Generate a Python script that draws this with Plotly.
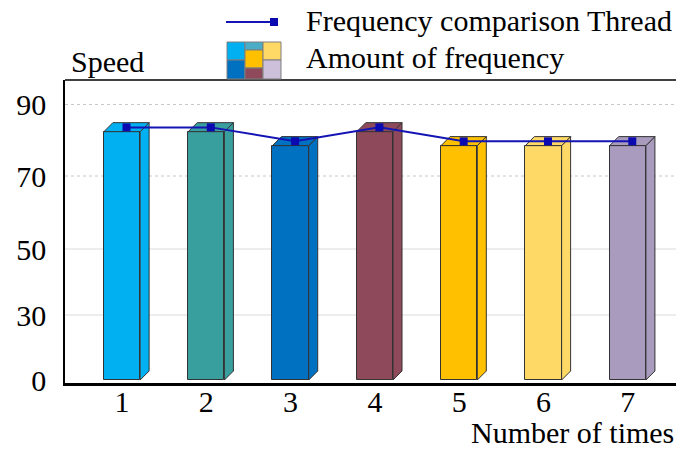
import plotly.graph_objects as go
import numpy as np

# ---- data ----
CATEGORIES = [1, 2, 3, 4, 5, 6, 7]
AMOUNT = [82.4, 82.4, 78.5, 82.4, 78.5, 78.5, 78.5]          # bar (front-face) heights
THREAD = [83.6, 83.6, 79.7, 83.6, 79.7, 79.7, 79.7]          # line values
BAR_COLORS = ["#00B0F0", "#389E9E", "#0070C0", "#8E4A5A", "#FFC000", "#FFD966", "#A99BBD"]
Y_TICK_LABELS = [0, 30, 50, 70, 90]
X_TICK_LABELS = ["1", "2", "3", "4", "5", "6", "7"]

# the reference's value axis is non-uniform: tick labels sit at these heights (px above the x axis)
Y_TICK_POS = [3, 68, 134, 207, 278.5]


def ypos(v):
    return np.interp(v, Y_TICK_LABELS, Y_TICK_POS)


W, H = 676, 451
ML, MR, MT, MB = 65, 0, 80, 68
PW, PH = W - ML - MR, H - MT - MB
X_RANGE = [0.324, 7.572]
Y_RANGE = [0, PH]

BAR_W = 0.43
DX = 9 * (X_RANGE[1] - X_RANGE[0]) / PW   # depth offset (9 px) in x units
DY = 9                                    # depth offset in y units (px)
EDGE = "#333333"
FONT = "Liberation Serif, Times New Roman, serif"


def px_x(px):
    return (px - ML) / PW


def px_y(py):
    return (H - MB - py) / PH


fig = go.Figure()

base = ypos(0)
tops = [ypos(v) for v in AMOUNT]

# front faces
fig.add_trace(go.Bar(
    x=CATEGORIES, y=[t - base for t in tops], base=[base] * len(tops), width=BAR_W,
    marker=dict(color=BAR_COLORS, line=dict(color=EDGE, width=1)),
    showlegend=False, hoverinfo="skip"))

# side and top faces
for c, t, col in zip(CATEGORIES, tops, BAR_COLORS):
    r = c + BAR_W / 2
    l = c - BAR_W / 2
    fig.add_trace(go.Scatter(
        x=[r, r + DX, r + DX, r, r], y=[base, base + DY, t + DY, t, base],
        fill="toself", fillcolor=col, mode="lines", line=dict(color=EDGE, width=1),
        showlegend=False, hoverinfo="skip"))
    fig.add_trace(go.Scatter(
        x=[l, l + DX, r + DX, r, l], y=[t, t + DY, t + DY, t, t],
        fill="toself", fillcolor=col, mode="lines", line=dict(color=EDGE, width=1),
        showlegend=False, hoverinfo="skip"))

# line series
LINE_COLOR = "#1414B4"
fig.add_trace(go.Scatter(
    x=[c + DX / 2 for c in CATEGORIES], y=[ypos(v) for v in THREAD],
    mode="lines+markers", line=dict(color=LINE_COLOR, width=2),
    marker=dict(symbol="square", size=8, color="#0A0AB0"),
    showlegend=False, hoverinfo="skip"))

shapes = []
# gridlines
for lab, pos in zip(Y_TICK_LABELS, Y_TICK_POS):
    if lab == 0:
        continue
    dotted = lab >= 70
    shapes.append(dict(type="line", xref="paper", yref="y", x0=0, x1=1, y0=pos, y1=pos,
                       line=dict(color="#C8C8C8" if dotted else "#DADADA", width=1,
                                 dash="dot" if dotted else "solid"),
                       layer="below"))
# top frame line
shapes.append(dict(type="line", xref="paper", yref="paper", x0=0, x1=1, y0=1, y1=1,
                   line=dict(color="black", width=1.5)))

# manual legend: line sample
shapes.append(dict(type="line", xref="paper", yref="paper",
                   x0=px_x(226), x1=px_x(275), y0=px_y(22), y1=px_y(22),
                   line=dict(color=LINE_COLOR, width=2)))
shapes.append(dict(type="rect", xref="paper", yref="paper",
                   x0=px_x(270), x1=px_x(278), y0=px_y(18), y1=px_y(26),
                   fillcolor="#0A0AB0", line=dict(width=0)))
# manual legend: colour-block icon
ICON_CELLS = [
    (227, 245, 42, 60, "#00B0F0"), (227, 245, 60, 79, "#0070C0"),
    (245, 263, 42, 50, "#4BACC6"), (245, 263, 50, 68, "#FFC000"), (245, 263, 68, 79, "#8E4A5A"),
    (263, 281, 42, 60, "#FFD966"), (263, 281, 60, 79, "#CCC0DA"),
]
for x0, x1, y0, y1, col in ICON_CELLS:
    shapes.append(dict(type="rect", xref="paper", yref="paper",
                       x0=px_x(x0), x1=px_x(x1), y0=px_y(y1), y1=px_y(y0),
                       fillcolor=col, line=dict(color="#7F7F7F", width=1)))

annotations = [
    dict(text="Frequency comparison Thread", xref="paper", yref="paper",
         x=px_x(304), y=px_y(20), xanchor="left", yanchor="middle", showarrow=False,
         font=dict(family=FONT, size=30, color="black")),
    dict(text="Amount of frequency", xref="paper", yref="paper",
         x=px_x(304), y=px_y(57), xanchor="left", yanchor="middle", showarrow=False,
         font=dict(family=FONT, size=30, color="black")),
    dict(text="Speed", xref="paper", yref="paper",
         x=px_x(69), y=px_y(62), xanchor="left", yanchor="middle", showarrow=False,
         font=dict(family=FONT, size=30, color="black")),
    dict(text="Number of times", xref="paper", yref="paper",
         x=1, y=px_y(432), xanchor="right", yanchor="middle", showarrow=False,
         font=dict(family=FONT, size=30, color="black")),
]

fig.update_layout(
    width=W, height=H, margin=dict(l=ML, r=MR, t=MT, b=MB),
    paper_bgcolor="white", plot_bgcolor="white",
    shapes=shapes, annotations=annotations, showlegend=False,
    font=dict(family=FONT, size=30, color="black"),
    bargap=0,
)
fig.update_xaxes(range=X_RANGE, tickmode="array", tickvals=CATEGORIES, ticktext=X_TICK_LABELS,
                 showgrid=False, zeroline=False, showline=True, linecolor="black", linewidth=3,
                 ticks="", ticklabelstandoff=-10, tickfont=dict(family=FONT, size=30))
fig.update_yaxes(range=Y_RANGE, tickmode="array", tickvals=Y_TICK_POS,
                 ticktext=[str(v) for v in Y_TICK_LABELS],
                 showgrid=False, zeroline=False, showline=True, linecolor="black", linewidth=1.5,
                 ticks="", ticklabelstandoff=11, tickfont=dict(family=FONT, size=30))

fig.write_html("out.html")
